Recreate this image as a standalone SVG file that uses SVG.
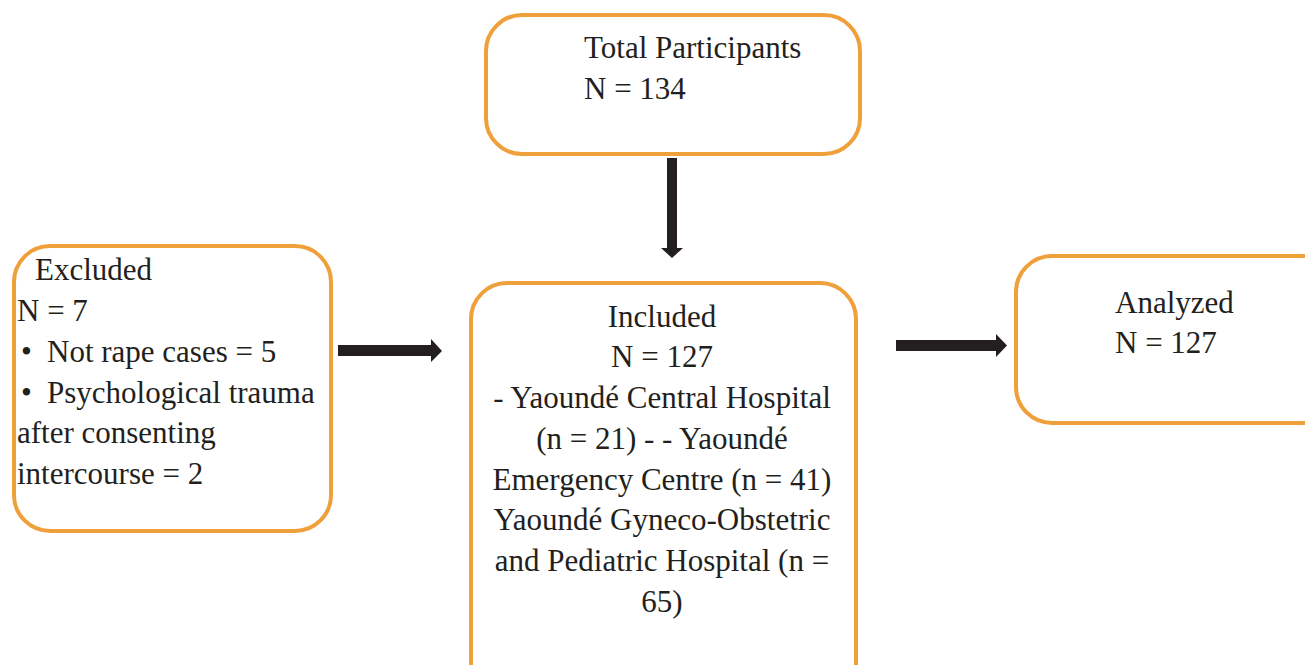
<svg xmlns="http://www.w3.org/2000/svg" width="1305" height="665" viewBox="0 0 1305 665">
<style>
.box{fill:#ffffff;stroke:#F0A03B;stroke-width:4}
.t{font-family:"Liberation Serif","Times New Roman",serif;font-size:31px;fill:#231F20}
.c{text-anchor:middle}
.arr{fill:#231F20}
</style>
<rect width="1305" height="665" fill="#ffffff"/>
<g id="total">
<rect class="box" x="486" y="15" width="374" height="139" rx="36"/>
<text class="t" x="584" y="58">Total Participants</text>
<text class="t" x="584" y="99">N = 134</text>
</g>
<g id="excluded">
<rect class="box" x="14" y="246" width="317" height="285" rx="36"/>
<text class="t" x="35" y="280">Excluded</text>
<text class="t" x="17" y="321">N = 7</text>
<text class="t" x="21" y="362">•</text>
<text class="t" x="47" y="362">Not rape cases = 5</text>
<text class="t" x="21" y="403">•</text>
<text class="t" x="47" y="403">Psychological trauma</text>
<text class="t" x="17" y="443">after consenting</text>
<text class="t" x="17" y="484">intercourse = 2</text>
</g>
<g id="included">
<rect class="box" x="471" y="283" width="385" height="420" rx="36"/>
<text class="t c" x="662" y="327">Included</text>
<text class="t c" x="662" y="367">N = 127</text>
<text class="t c" x="662" y="408">- Yaoundé Central Hospital</text>
<text class="t c" x="662" y="449">(n = 21) - - Yaoundé</text>
<text class="t c" x="662" y="490">Emergency Centre (n = 41)</text>
<text class="t c" x="662" y="530">Yaoundé Gyneco-Obstetric</text>
<text class="t c" x="662" y="571">and Pediatric Hospital (n =</text>
<text class="t c" x="662" y="612">65)</text>
</g>
<g id="analyzed">
<rect class="box" x="1016" y="256" width="330" height="167" rx="36"/>
<text class="t" x="1115" y="313">Analyzed</text>
<text class="t" x="1115" y="353">N = 127</text>
</g>
<g id="connectors">
<path class="arr" d="M667,158 H677 V248 H683 L672,258 L661,248 H667 Z"/>
<path class="arr" d="M338,345 H431 V339 L442,351 L431,362 V356 H338 Z"/>
<path class="arr" d="M896,340 H996 V334 L1007,345.5 L996,357 V351 H896 Z"/>
</g>
</svg>
